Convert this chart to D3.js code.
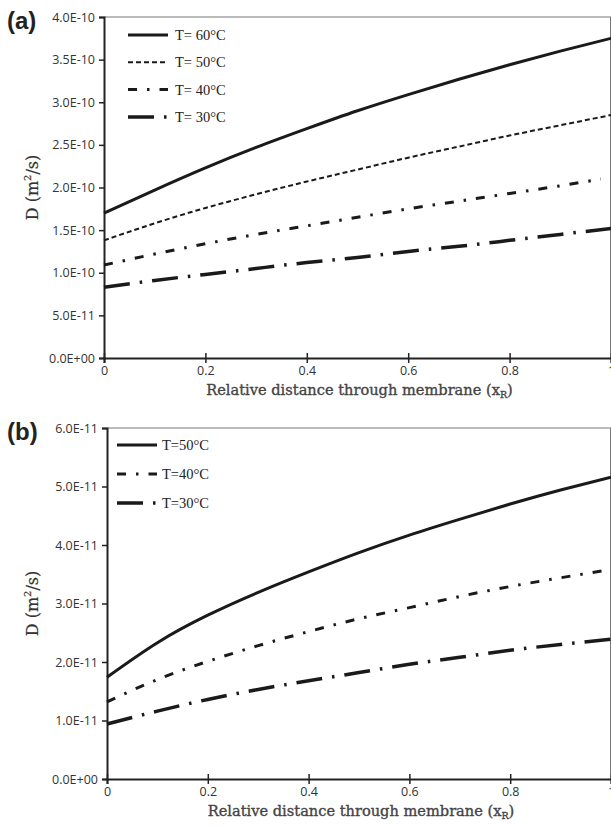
<!DOCTYPE html>
<html>
<head>
<meta charset="utf-8">
<script src="https://cdn.jsdelivr.net/npm/d3@7"></script>
<style>
  body { margin: 0; background: #fff; }
  svg { display: block; }
</style>
</head>
<body>
<svg id="chart" width="611" height="827"></svg>
<script>
// x positions (relative distance through membrane)
const xs = [0, 0.1, 0.2, 0.3, 0.4, 0.5, 0.6, 0.7, 0.8, 0.9, 1.0];
const xs40a = [0, 0.1, 0.2, 0.3, 0.4, 0.5, 0.6, 0.7, 0.8, 0.9, 0.98];

// panel (a) values, units of 1e-10 m2/s
const a60 = [1.70, 1.97, 2.23, 2.47, 2.69, 2.90, 3.09, 3.27, 3.44, 3.60, 3.75];
const a50 = [1.38, 1.58, 1.76, 1.92, 2.07, 2.21, 2.35, 2.48, 2.61, 2.73, 2.85];
const a40 = [1.09, 1.22, 1.34, 1.45, 1.55, 1.65, 1.75, 1.84, 1.93, 2.02, 2.10];
const a30 = [0.83, 0.91, 0.98, 1.05, 1.12, 1.18, 1.25, 1.31, 1.38, 1.45, 1.52];

// panel (b) values, units of 1e-11 m2/s
const b50 = [1.74, 2.33, 2.80, 3.19, 3.54, 3.87, 4.17, 4.44, 4.70, 4.94, 5.16];
const b40 = [1.32, 1.70, 2.01, 2.28, 2.52, 2.74, 2.93, 3.12, 3.29, 3.44, 3.58];
const b30 = [0.94, 1.16, 1.36, 1.53, 1.68, 1.82, 1.96, 2.08, 2.20, 2.30, 2.39];

const xTicks = [0, 0.2, 0.4, 0.6, 0.8, 1];
const xTickLabels = ["0", "0.2", "0.4", "0.6", "0.8", "1"];
const yTicksA = [0, 0.5e-10, 1.0e-10, 1.5e-10, 2.0e-10, 2.5e-10, 3.0e-10, 3.5e-10, 4.0e-10];
const yTickLabelsA = ["0.0E+00", "5.0E-11", "1.0E-10", "1.5E-10", "2.0E-10", "2.5E-10", "3.0E-10", "3.5E-10", "4.0E-10"];
const yTicksB = [0, 1e-11, 2e-11, 3e-11, 4e-11, 5e-11, 6e-11];
const yTickLabelsB = ["0.0E+00", "1.0E-11", "2.0E-11", "3.0E-11", "4.0E-11", "5.0E-11", "6.0E-11"];

const legendA = ["T= 60°C", "T= 50°C", "T= 40°C", "T= 30°C"];
const legendB = ["T=50°C", "T=40°C", "T=30°C"];

// line styles
const styles = {
  solid:   {w: 3, dash: null},
  dashed:  {w: 2, dash: "5,3"},
  dashdot: {w: 3, dash: "9,10,2.5,10"},
  longdd:  {w: 3.5, dash: "26,10,2.5,10"}
};

const svg = d3.select("#chart");

function panel(opt) {
  const x = d3.scaleLinear().domain([0, 1]).range([opt.left, opt.right]);
  const y = d3.scaleLinear().domain([0, opt.ymax]).range([opt.bottom, opt.top]);
  const g = svg.append("g");

  // frame: thin top/right
  g.append("line").attr("x1", opt.left).attr("x2", opt.right).attr("y1", opt.top).attr("y2", opt.top)
    .attr("stroke", "#777").attr("stroke-width", 1);
  g.append("line").attr("x1", opt.right - 0.5).attr("x2", opt.right - 0.5).attr("y1", opt.top).attr("y2", opt.bottom)
    .attr("stroke", "#777").attr("stroke-width", 1);

  // y axis
  const yAxis = d3.axisLeft(y).tickValues(opt.yTicks)
    .tickFormat((d, i) => opt.yLabels[i]).tickSize(5).tickPadding(4);
  const ya = g.append("g").attr("transform", `translate(${opt.left},0)`).call(yAxis);
  ya.select(".domain").attr("stroke", "#222").attr("stroke-width", 2);
  ya.selectAll(".tick line").attr("stroke", "#222").attr("stroke-width", 1.5);
  ya.selectAll(".tick text").attr("font-family", "Open Sans, sans-serif").attr("font-size", 12.5).attr("fill", "#333");

  // x axis
  const xAxis = d3.axisBottom(x).tickValues(xTicks)
    .tickFormat((d, i) => xTickLabels[i]).tickSize(5).tickPadding(3);
  const xa = g.append("g").attr("transform", `translate(0,${opt.bottom})`).call(xAxis);
  xa.select(".domain").attr("stroke", "#222").attr("stroke-width", 2);
  xa.selectAll(".tick line").attr("stroke", "#222").attr("stroke-width", 1.5).attr("y1", -5);
  xa.selectAll(".tick text").attr("font-family", "Open Sans, sans-serif").attr("font-size", 12.5).attr("fill", "#333");

  // titles
  const xt = g.append("text").attr("x", (opt.left + opt.right) / 2 + 2).attr("y", opt.bottom + 37)
    .attr("text-anchor", "middle").attr("font-family", "DejaVu Serif, serif").attr("font-size", 14.6)
    .attr("fill", "#444").attr("stroke", "#444").attr("stroke-width", 0.35);
  xt.append("tspan").text("Relative distance through membrane (x");
  xt.append("tspan").attr("font-size", 9.5).attr("dy", 3).text("R");
  xt.append("tspan").attr("dy", -3).text(")");

  const yt = g.append("text")
    .attr("transform", `translate(38,${(opt.top + opt.bottom) / 2}) rotate(-90)`)
    .attr("text-anchor", "middle").attr("font-family", "DejaVu Serif, serif").attr("font-size", 16)
    .attr("fill", "#333").attr("stroke", "#333").attr("stroke-width", 0.2);
  yt.append("tspan").text("D (m");
  yt.append("tspan").attr("font-size", 10).attr("dy", -7).text("2");
  yt.append("tspan").attr("dy", 7).text("/s)");

  // panel label
  g.append("text").attr("x", 7).attr("y", opt.top + 12)
    .attr("font-family", "Liberation Sans, Arial, sans-serif").attr("font-weight", "bold")
    .attr("font-size", 24).attr("fill", "#222").text(opt.label);

  // series
  const line = d3.line().x(d => x(d[0])).y(d => y(d[1])).curve(d3.curveNatural);
  opt.series.forEach((s, i) => {
    const st = styles[s.style];
    const pts = s.xs.map((xv, j) => [xv, s.vals[j] * opt.unit]);
    g.append("path").datum(pts).attr("d", line).attr("fill", "none")
      .attr("stroke", "#1a1a1a").attr("stroke-width", st.w)
      .attr("stroke-dasharray", st.dash);

    // legend
    const ly = opt.legY + i * opt.legStep;
    g.append("line").attr("x1", opt.legX).attr("x2", opt.legX + 40).attr("y1", ly).attr("y2", ly)
      .attr("stroke", "#1a1a1a").attr("stroke-width", st.w).attr("stroke-dasharray", st.dash);
    g.append("text").attr("x", opt.legX + opt.legGap).attr("y", ly + 5)
      .attr("font-family", "Liberation Serif, Times New Roman, serif").attr("font-size", 14.5)
      .attr("fill", "#222").text(opt.legend[i]);
  });
}

panel({
  label: "(a)", left: 104, right: 611, top: 17, bottom: 358, ymax: 4e-10, unit: 1e-10,
  yTicks: yTicksA, yLabels: yTickLabelsA, legend: legendA,
  legX: 128, legY: 35, legStep: 27.3, legGap: 47,
  series: [
    {xs: xs, vals: a60, style: "solid"},
    {xs: xs, vals: a50, style: "dashed"},
    {xs: xs40a, vals: a40, style: "dashdot"},
    {xs: xs, vals: a30, style: "longdd"}
  ]
});

panel({
  label: "(b)", left: 107, right: 611, top: 428, bottom: 779, ymax: 6e-11, unit: 1e-11,
  yTicks: yTicksB, yLabels: yTickLabelsB, legend: legendB,
  legX: 117, legY: 445, legStep: 29, legGap: 45,
  series: [
    {xs: xs, vals: b50, style: "solid"},
    {xs: xs, vals: b40, style: "dashdot"},
    {xs: xs, vals: b30, style: "longdd"}
  ]
});
</script>
</body>
</html>
